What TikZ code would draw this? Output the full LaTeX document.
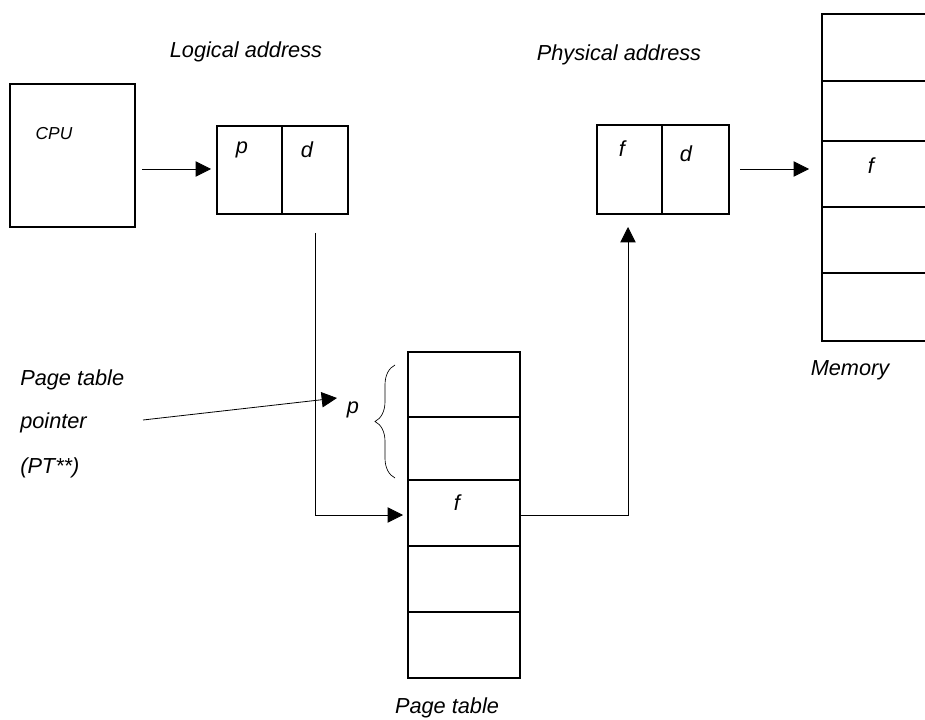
\documentclass[tikz,border=0pt]{standalone}
\usepackage{fontspec}
\setmainfont{Liberation Sans}
\usetikzlibrary{arrows.meta,fit,decorations.pathreplacing}

\begin{document}
\begin{tikzpicture}[x=0.75pt,y=-0.75pt,
  cell/.style={draw, line width=1.5pt, rectangle, inner sep=0pt},
  lbl/.style={font=\fontsize{16.3}{19}\selectfont\itshape, inner sep=0pt},
  small/.style={font=\fontsize{13}{15}\selectfont\itshape, inner sep=0pt},
  link/.style={line width=0.6pt},
  tip/.style={-{Triangle[length=11.5pt,width=11.5pt]}}]

\clip (0,0) rectangle (925,720);
\fill[white] (0,0) rectangle (925,720);

% CPU
\node[cell, fit={(10,84) (135,227)}] (cpu) {};
\node[small] (cpu-txt) at (54,134) {CPU};

% logical address p | d
\node[cell, fit={(217,126) (282,214)}] (la-p) {};
\node[cell, fit={(282,126) (348,214)}] (la-d) {};
\node[lbl] (la-title) at (246,52) {Logical address};
\node[lbl] (la-ptxt) at (242,150) {p};
\node[lbl] (la-dtxt) at (307,150) {d};

% physical address f | d
\node[cell, fit={(597,125) (662,214)}] (pa-f) {};
\node[cell, fit={(662,125) (729,214)}] (pa-d) {};
\node[lbl] (pa-title) at (619,55) {Physical address};
\node[lbl] (pa-ftxt) at (622,149) {f};
\node[lbl] (pa-dtxt) at (686,154) {d};

% memory frames
\node[cell, fit={(822,14) (962,81)}] (m1) {};
\node[cell, fit={(822,81) (962,141)}] (m2) {};
\node[cell, fit={(822,141) (962,207)}] (m3) {};
\node[cell, fit={(822,207) (962,273)}] (m4) {};
\node[cell, fit={(822,273) (962,341)}] (m5) {};
\node[lbl] (m-ftxt) at (871,166) {f};
\node[lbl] (mem-title) at (850,370) {Memory};

% page table entries
\node[cell, fit={(408,352) (520,417)}] (pt1) {};
\node[cell, fit={(408,417) (520,480)}] (pt2) {};
\node[cell, fit={(408,480) (520,546)}] (pt3) {};
\node[cell, fit={(408,546) (520,612)}] (pt4) {};
\node[cell, fit={(408,612) (520,678)}] (pt5) {};
\node[lbl] (pt-ftxt) at (457,503) {f};
\node[lbl] (pt-title) at (447,708) {Page table};

% page table pointer
\node[lbl, anchor=west] (ptr1) at (20,380) {Page table};
\node[lbl, anchor=west] (ptr2) at (20,423) {pointer};
\node[lbl, anchor=west] (ptr3) at (20,468) {(PT**)};
\node[lbl] (ptr-p) at (353,410) {p};

% connector end points
\coordinate (cpu-out) at (142,169);
\coordinate (la-down) at (315,233);
\coordinate (la-turn) at (315,515);
\coordinate (ptr-from) at (143,420);
\coordinate (ptr-to) at (337,398);
\coordinate (pa-up) at (628,227);
\coordinate (pa-out) at (740,169);

% connectors
\draw[link, tip, shorten >=3.75pt] (cpu-out) -- (cpu-out -| la-p.west);
\draw[link, tip, shorten >=3pt] (la-down) -- (la-turn) -- (la-turn -| pt3.west);
\draw[link, tip] (ptr-from) -- (ptr-to);
\draw[link, tip] (pt3.east |- la-turn) -- (la-turn -| pa-up) -- (pa-up);
\draw[link, tip, shorten >=9pt] (pa-out) -- (pa-out -| m3.west);

% brace over the first p entries
\draw[line width=0.5pt, decorate, decoration={brace, amplitude=15pt}]
  (395,478) -- (395,365);

\end{tikzpicture}
\end{document}
